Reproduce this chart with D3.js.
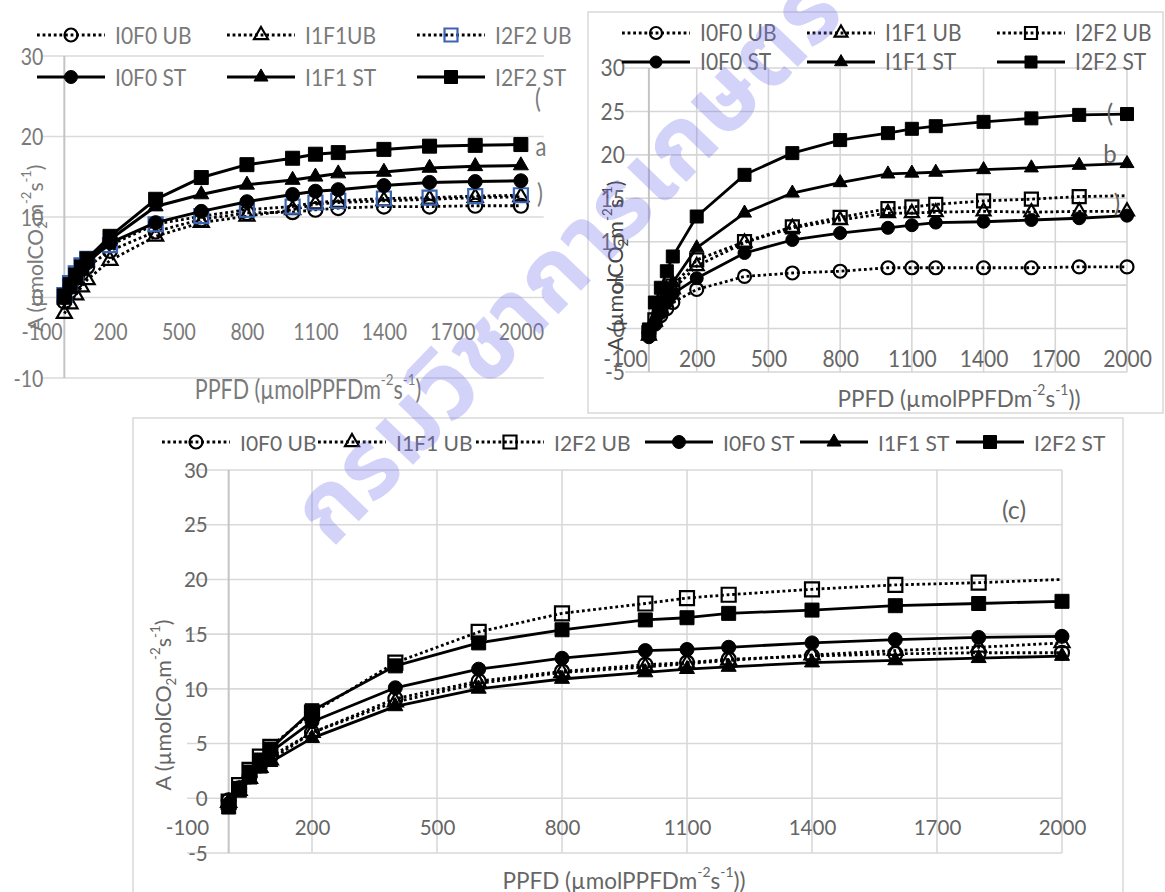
<!DOCTYPE html>
<html><head><meta charset="utf-8">
<script src="https://cdn.jsdelivr.net/npm/d3@7"></script>
<style>body{margin:0;background:#fff;} svg{display:block;font-family:Lato,'Open Sans',sans-serif;}</style>
</head><body>
<svg id="chart" width="1165" height="892"></svg>
<script>
// ---------------- DATA ----------------
const ppfd = [0,25,50,75,100,200,400,600,800,1000,1100,1200,1400,1600,1800,2000];
const xTickLabels = [-100,200,500,800,1100,1400,1700,2000];
const yTicksA = [-10,0,10,20,30];
const yTicksBC = [-5,0,5,10,15,20,25,30];
const legendNamesA = ["I0F0 UB","I1F1UB","I2F2 UB","I0F0 ST","I1F1 ST","I2F2 ST"];
const legendNamesBC = ["I0F0 UB","I1F1 UB","I2F2 UB","I0F0 ST","I1F1 ST","I2F2 ST"];

// Panel (a)
const aI0F0UB = [-0.5,0.8,2.0,3.0,3.8,5.8,8.2,9.7,10.5,10.6,10.9,11.1,11.3,11.3,11.4,11.4];
const aI1F1UB = [-2.0,-0.8,0.3,1.3,2.2,4.6,7.6,9.3,10.1,10.9,11.6,11.8,12.0,12.2,12.4,12.5];
const aI2F2UB = [0.3,1.8,3.0,4.0,4.8,6.5,9.1,10.1,10.9,11.3,11.8,12.0,12.3,12.4,12.6,12.7];
const aI0F0ST = [0.0,1.3,2.5,3.5,4.3,6.8,9.3,10.7,11.9,12.8,13.2,13.4,13.9,14.3,14.4,14.5];
const aI1F1ST = [-0.3,1.0,2.2,3.3,4.3,7.2,11.3,12.8,14.0,14.6,15.0,15.4,15.6,16.1,16.3,16.4];
const aI2F2ST = [0.2,1.6,2.8,3.8,4.8,7.6,12.2,14.9,16.5,17.3,17.8,18.0,18.4,18.8,18.9,19.0];

// Panel (b)
const bI0F0UB = [-0.5,0.5,1.5,2.3,3.0,4.5,6.0,6.4,6.6,7.0,7.0,7.0,7.0,7.0,7.1,7.1];
const bI1F1UB = [-0.8,0.8,2.3,3.5,4.5,7.2,9.9,11.6,12.5,13.3,13.3,13.4,13.5,13.4,13.5,13.5];
const bI2F2UB = [-0.5,1.0,2.5,3.8,4.9,7.9,10.0,11.7,12.8,13.8,14.0,14.3,14.7,14.9,15.2,15.3];
const bI0F0ST = [-1.0,0.5,1.8,3.0,4.0,5.8,8.7,10.2,11.0,11.6,11.9,12.2,12.3,12.5,12.7,13.0];
const bI1F1ST = [-0.5,1.2,2.7,4.0,5.3,9.3,13.3,15.6,16.8,17.8,17.9,18.0,18.3,18.5,18.8,19.0];
const bI2F2ST = [-0.1,3.0,4.7,6.6,8.3,12.9,17.7,20.2,21.7,22.5,23.0,23.3,23.8,24.2,24.6,24.7];

// Panel (c)
const cI0F0UB = [-0.2,0.9,2.0,3.0,3.8,6.0,9.1,10.7,11.6,12.2,12.4,12.7,13.0,13.2,13.3,13.3];
const cI1F1UB = [-0.4,0.7,1.8,2.8,3.5,6.0,8.8,10.5,11.5,12.0,12.3,12.6,13.1,13.5,13.8,14.2];
const cI2F2UB = [-0.3,1.2,2.6,3.8,4.7,7.8,12.4,15.2,16.9,17.8,18.3,18.6,19.1,19.5,19.7,20.0];
const cI0F0ST = [-0.5,0.8,2.2,3.2,4.2,7.0,10.1,11.8,12.8,13.5,13.6,13.8,14.2,14.5,14.7,14.8];
const cI1F1ST = [-0.6,0.5,1.7,2.7,3.3,5.5,8.4,10.0,10.9,11.5,11.8,12.0,12.4,12.6,12.8,13.0];
const cI2F2ST = [-0.8,0.9,2.4,3.5,4.5,8.0,12.1,14.2,15.4,16.3,16.5,16.9,17.2,17.6,17.8,18.0];

// ---------------- DRAWING ----------------
const svg = d3.select("#chart");
const symbolTypes = {circle: d3.symbolCircle, triangle: d3.symbolTriangle, square: d3.symbolSquare};
const seriesStyle = [
  {shape:'circle', open:true}, {shape:'triangle', open:true}, {shape:'square', open:true},
  {shape:'circle', open:false}, {shape:'triangle', open:false}, {shape:'square', open:false}];

function drawMarker(g, shape, open, cx, cy, size, color) {
  const area = shape === 'square' ? size*size : shape === 'circle' ? Math.PI*size*size/4 : size*size*0.5;
  g.append('path').attr('d', d3.symbol(symbolTypes[shape], area)())
    .attr('transform', `translate(${cx},${cy})`)
    .attr('fill', open ? 'none' : color).attr('stroke', color).attr('stroke-width', open ? 2.2 : 1);
}

function richText(g, x, y, parts, o) {
  let tr = `translate(${x},${y})`;
  if (o.rot) tr += ` rotate(${o.rot})`;
  if (o.sy) tr += ` scale(1,${o.sy})`;
  const t = g.append('text').attr('transform', tr)
    .attr('text-anchor', o.anchor || 'start').attr('dominant-baseline', 'central')
    .attr('font-size', o.size || 20).attr('fill', o.color || '#6d6d6d');
  parts.forEach(p => {
    const s = t.append('tspan').text(p[0]);
    if (p[1] === 'sup') s.attr('baseline-shift', 'super').attr('font-size', '62%');
    if (p[1] === 'sub') s.attr('baseline-shift', 'sub').attr('font-size', '62%');
  });
  return t;
}

const xTitleParts = (extra) => [['PPFD (µmolPPFDm',''],['-2','sup'],['s',''],['-1','sup'],[')' + extra,'']];
const yTitleParts = [['A (µmolCO',''],['2','sub'],['m',''],['-2','sup'],['s',''],['-1','sup'],[')','']];

function drawPanel(P) {
  const g = svg.append('g');
  const x = d3.scaleLinear().domain(P.xDomain).range(P.xRange);
  const y = d3.scaleLinear().domain(P.yDomain).range(P.yRange);

  if (P.border) {
    g.append('rect').attr('x', P.border[0]).attr('y', P.border[1])
      .attr('width', P.border[2] - P.border[0]).attr('height', P.border[3] - P.border[1])
      .attr('fill', '#fff').attr('stroke', '#d9d9d9').attr('stroke-width', 1.5);
  }
  // horizontal gridlines
  g.selectAll(null).data(P.yTicks).enter().append('line')
    .attr('x1', x(P.xDomain[0])).attr('x2', x(P.xDomain[1]))
    .attr('y1', d => y(d)).attr('y2', d => y(d))
    .attr('stroke', P.gridColor).attr('stroke-width', 1.6);
  // vertical gridlines
  if (P.vGrid) {
    g.selectAll(null).data(xTickLabels.filter(d => d > P.xDomain[0])).enter().append('line')
      .attr('x1', d => x(d)).attr('x2', d => x(d))
      .attr('y1', y(P.yDomain[0])).attr('y2', y(P.yDomain[1]))
      .attr('stroke', P.gridColor).attr('stroke-width', 1.6);
  }
  // vertical axis line at x = 0
  g.append('line').attr('x1', x(0)).attr('x2', x(0))
    .attr('y1', y(P.yDomain[0])).attr('y2', y(P.yDomain[1]))
    .attr('stroke', '#c4c4c4').attr('stroke-width', 2);

  // y axis labels
  const ya = g.append('g').attr('transform', `translate(${x(0)},0)`)
    .call(d3.axisLeft(y).tickValues(P.yTicks).tickSize(0).tickPadding(P.yPad).tickFormat(d => String(d)));
  ya.select('.domain').remove();
  ya.attr('font-family', null).attr('font-size', null);
  ya.selectAll('text').attr('font-size', P.tickSize).attr('fill', P.tickColor)
    .attr('dy', '0.35em').attr('transform', `scale(1,${P.sy})`);

  // x axis labels
  const xa = g.append('g').attr('transform', `translate(0,${y(0) + P.xLabOff})`)
    .call(d3.axisBottom(x).tickValues(xTickLabels).tickSize(0).tickPadding(0).tickFormat(d => String(d)));
  xa.select('.domain').remove();
  xa.attr('font-family', null).attr('font-size', null);
  xa.selectAll('text').attr('y', 0).attr('font-size', P.tickSize).attr('fill', P.tickColor)
    .attr('dy', '0.35em').attr('transform', `scale(1,${P.sy})`);

  // titles
  richText(g, P.xTitle[0], P.xTitle[1], xTitleParts(P.xTitleExtra), {anchor:'middle', size:P.titleSize, color:P.tickColor, sy:P.sy});
  richText(g, P.yTitle[0], P.yTitle[1], yTitleParts, {anchor:'middle', size:P.yTitleSize, color:P.yTitleColor || P.tickColor, rot:-90});

  // series
  P.series.forEach((vals, i) => {
    const st = seriesStyle[i];
    const pts = ppfd.map((p, j) => [x(p), y(vals[j])]);
    g.append('path').attr('d', d3.line()(pts)).attr('fill', 'none').attr('stroke', '#000')
      .attr('stroke-width', st.open ? P.dotW : P.lineW)
      .attr('stroke-dasharray', st.open ? P.dash : null).attr('stroke-linejoin', 'round');
    pts.forEach((pt, j) => {
      if (P.hideLast && P.hideLast.includes(i) && j === pts.length - 1) return;
      drawMarker(g, st.shape, st.open, pt[0], pt[1], P.markerSize, (P.markerColors && P.markerColors[i]) || '#000');
    });
  });

  // legend
  P.legendNames.forEach((name, i) => {
    const st = seriesStyle[i];
    const pos = P.legendPos[i];
    const lg = g.append('g');
    lg.append('line').attr('x1', pos[0]).attr('x2', pos[0] + 68).attr('y1', pos[1]).attr('y2', pos[1])
      .attr('stroke', '#000').attr('stroke-width', st.open ? P.dotW : P.lineW)
      .attr('stroke-dasharray', st.open ? P.dash : null);
    drawMarker(lg, st.shape, st.open, pos[0] + 34, pos[1], P.markerSize - 1, (P.markerColors && P.markerColors[i]) || '#000');
    richText(lg, pos[0] + 78, pos[1], [[name, '']], {size:P.legendSize, color:P.tickColor, sy:P.legendSy});
  });

  // annotations
  P.notes.forEach(n => richText(g, n[0], n[1], [[n[2], '']], {size:n[3], color:P.tickColor, anchor:'middle', sy:P.sy}));
}

// Panel (a)
drawPanel({
  xDomain:[-100,2100], xRange:[41.5,543.7], yDomain:[-10,30], yRange:[378,56],
  yTicks:yTicksA, vGrid:false, gridColor:'#dadada', yPad:21, xLabOff:34,
  tickSize:19.5, tickColor:'#7a7a7a', sy:1.22, titleSize:21.5, yTitleSize:21,
  xTitle:[308,388], xTitleExtra:'', yTitle:[34,248],
  lineW:3, dotW:2.8, dash:'2.8 2.8', markerSize:14,
  markerColors:[null,null,'#3c64b4',null,null,null],
  series:[aI0F0UB,aI1F1UB,aI2F2UB,aI0F0ST,aI1F1ST,aI2F2ST],
  legendNames:legendNamesA, legendSize:21, legendSy:1.12,
  legendPos:[[37,35],[227,35],[417,35],[37,77],[227,77],[417,77]],
  notes:[[538,97,'(',22],[541,145,'a',22],[540,192,')',22]]
});

// Panel (b)
drawPanel({
  border:[588,12,1163,413],
  xDomain:[-100,2000], xRange:[625,1127], yDomain:[-5,30], yRange:[372,68],
  yTicks:yTicksBC, vGrid:true, gridColor:'#d6d6d6', yPad:24, xLabOff:31,
  tickSize:21, tickColor:'#666', sy:1.06, titleSize:22.5, yTitleSize:21.5, yTitleColor:'#444',
  xTitle:[959,398], xTitleExtra:')', yTitle:[615,266],
  lineW:2.8, dotW:2.8, dash:'2.8 2.8', markerSize:13, hideLast:[2],
  series:[bI0F0UB,bI1F1UB,bI2F2UB,bI0F0ST,bI1F1ST,bI2F2ST],
  legendNames:legendNamesBC, legendSize:21, legendSy:1.06,
  legendPos:[[622,33],[807,33],[997,33],[622,62],[807,62],[997,62]],
  notes:[[1110,112,'(',24],[1110,153,'b',24],[1117,202,')',24]]
});

// Panel (c)
drawPanel({
  border:[133,418,1123,900],
  xDomain:[-100,2000], xRange:[187,1062], yDomain:[-5,30], yRange:[853,470],
  yTicks:yTicksBC, vGrid:true, gridColor:'#d9d9d9', yPad:21, xLabOff:30,
  tickSize:20.5, tickColor:'#666', sy:1, titleSize:22.5, yTitleSize:21.5,
  xTitle:[624,880], xTitleExtra:')', yTitle:[163,705],
  lineW:2.8, dotW:2.8, dash:'2.8 2.8', markerSize:14, hideLast:[2],
  series:[cI0F0UB,cI1F1UB,cI2F2UB,cI0F0ST,cI1F1ST,cI2F2ST],
  legendNames:legendNamesBC, legendSize:21, legendSy:1,
  legendPos:[[162,442],[318,442],[476,442],[645,442],[800,442],[956,442]],
  notes:[[1014,509,'(c)',25]]
});

// watermark
svg.append('text').attr('transform', 'translate(568,262) rotate(-46)')
  .attr('text-anchor', 'middle').attr('dominant-baseline', 'central')
  .attr('font-size', 96).attr('font-weight', 700).attr('fill', '#7070f0').attr('opacity', 0.3)
  .attr('font-family', "'Noto Sans Thai','Noto Serif Thai',Loma,Garuda,Kinnari,sans-serif")
  .text('กรมวิชาการเกษตร');
</script>
</body></html>
